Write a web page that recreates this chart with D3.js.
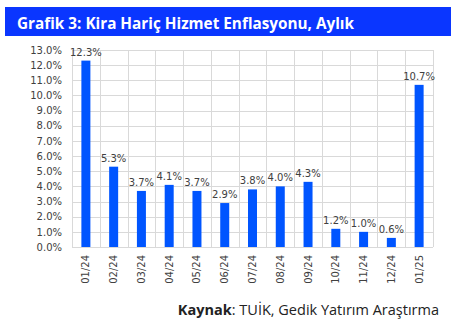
<!DOCTYPE html>
<html><head><meta charset="utf-8">
<script src="https://cdn.jsdelivr.net/npm/d3@7"></script>
<style>body{margin:0;background:#fff}svg{display:block}</style>
</head><body>
<script>
const categories = ["01/24","02/24","03/24","04/24","05/24","06/24","07/24","08/24","09/24","10/24","11/24","12/24","01/25"];
const values = [12.3,5.3,3.7,4.1,3.7,2.9,3.8,4.0,4.3,1.2,1.0,0.6,10.7];
const yTicks = [0,1,2,3,4,5,6,7,8,9,10,11,12,13];
const title = "Grafik 3: Kira Hariç Hizmet Enflasyonu, Aylık";
const sourceBold = "Kaynak";
const sourceRest = ": TUİK, Gedik Yatırım Araştırma";

(function(){
const W = 458, H = 325;
const svg = d3.select("body").append("svg").attr("width", W).attr("height", H);

svg.append("rect").attr("x",5).attr("y",7).attr("width",446).attr("height",29).attr("fill","#0a36ff");
svg.append("text").attr("x",17).attr("y",28.5).attr("fill","#fff")
  .attr("font-family","'Open Sans', 'Noto Sans', sans-serif").attr("font-weight","bold").attr("font-size",15.3)
  .text(title);

const mL = 72, mR = 433, mT = 50, mB = 247;
const x = d3.scaleBand().domain(categories).range([mL,mR]).paddingInner(0).paddingOuter(0);
const y = d3.scaleLinear().domain([0,13]).range([mB,mT]);

const g = svg.append("g");
g.selectAll("line.h").data(yTicks).join("line").attr("class","h")
  .attr("x1",mL).attr("x2",mR).attr("y1",d=>Math.round(y(d))+0.5).attr("y2",d=>Math.round(y(d))+0.5)
  .attr("stroke","#d9d9d9").attr("stroke-width",1);
const vb = categories.map(c=>x(c)).concat([mR]);
g.selectAll("line.v").data(vb).join("line").attr("class","v")
  .attr("x1",d=>Math.round(d)+0.5).attr("x2",d=>Math.round(d)+0.5).attr("y1",mT).attr("y2",mB)
  .attr("stroke","#d9d9d9").attr("stroke-width",1);

const yAxis = d3.axisLeft(y).tickValues(yTicks).tickFormat(d=>d.toFixed(1)+"%").tickSize(0).tickPadding(10);
const ya = svg.append("g").attr("transform",`translate(${mL},0)`).call(yAxis);
ya.select(".domain").remove();
ya.selectAll("text").attr("font-family","'DejaVu Sans', Verdana, sans-serif").attr("font-size",10).attr("fill","#404040");

const bw = 9;
svg.selectAll("rect.bar").data(values).join("rect").attr("class","bar")
  .attr("x",(d,i)=>x(categories[i])+x.bandwidth()/2-bw/2)
  .attr("width",bw)
  .attr("y",d=>y(d)).attr("height",d=>mB-y(d))
  .attr("fill","#0055ff");

svg.selectAll("text.lbl").data(values).join("text").attr("class","lbl")
  .attr("x",(d,i)=>x(categories[i])+x.bandwidth()/2)
  .attr("y",d=>y(d)-5)
  .attr("text-anchor","middle")
  .attr("font-family","'DejaVu Sans', Verdana, sans-serif").attr("font-size",10).attr("fill","#404040")
  .text(d=>d.toFixed(1)+"%");

const xAxis = d3.axisBottom(x).tickSize(0).tickPadding(0);
const xa = svg.append("g").attr("transform",`translate(0,${mB})`).call(xAxis);
xa.select(".domain").remove();
xa.selectAll("text")
  .attr("font-family","'DejaVu Sans', Verdana, sans-serif").attr("font-size",10).attr("fill","#404040")
  .attr("transform","rotate(-90)").attr("text-anchor","end").attr("dy","0.35em").attr("x",-8).attr("y",0);

const src = svg.append("text").attr("x",439).attr("y",315).attr("text-anchor","end")
  .attr("font-family","'Open Sans', 'Noto Sans', sans-serif").attr("font-size",14.5).attr("fill","#222");
src.append("tspan").attr("font-weight","bold").text(sourceBold);
src.append("tspan").text(sourceRest);
})();
</script>
</body></html>
